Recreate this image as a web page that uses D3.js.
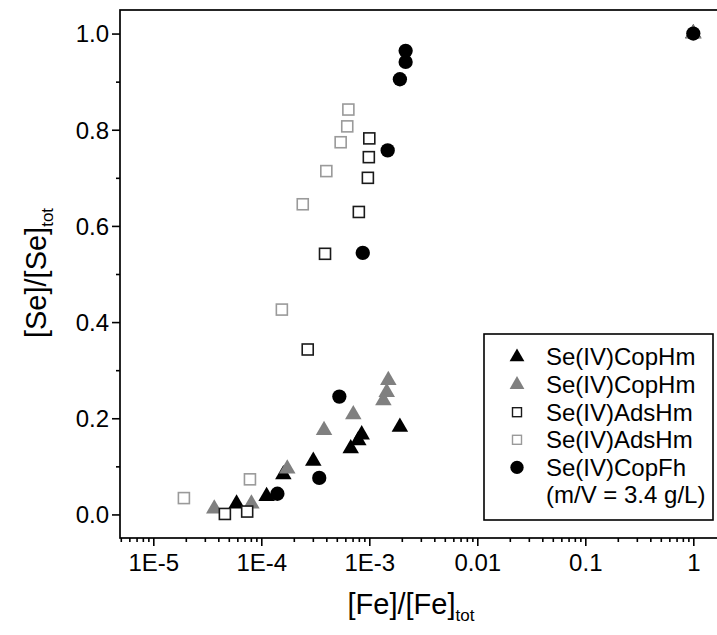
<!DOCTYPE html>
<html>
<head>
<meta charset="utf-8">
<script src="https://cdn.jsdelivr.net/npm/d3@7"></script>
<style>
  body { margin: 0; background: #fff; }
  svg text { font-family: "Liberation Sans", Arial, sans-serif; fill: #000; }
</style>
</head>
<body>
<script>
// values
const copHmBlackX = [5.9e-5, 1.12e-4, 1.6e-4, 3.03e-4, 6.73e-4, 7.91e-4, 8.5e-4, 1.92e-3, 1];
const copHmBlackY = [0.022, 0.038, 0.083, 0.111, 0.137, 0.154, 0.166, 0.182, 1];
const copHmGrayX = [3.67e-5, 8.1e-5, 1.74e-4, 3.81e-4, 7.11e-4, 1.35e-3, 1.45e-3, 1.5e-3, 1];
const copHmGrayY = [0.012, 0.022, 0.095, 0.175, 0.208, 0.237, 0.254, 0.279, 1];
const adsHmBlackX = [4.6e-5, 7.4e-5, 2.69e-4, 3.89e-4, 8.0e-4, 9.7e-4, 9.9e-4, 1.0e-3];
const adsHmBlackY = [0.001, 0.006, 0.343, 0.542, 0.629, 0.700, 0.743, 0.782];
const adsHmGrayX = [1.92e-5, 7.85e-5, 1.55e-4, 2.42e-4, 4.0e-4, 5.43e-4, 6.25e-4, 6.4e-4];
const adsHmGrayY = [0.034, 0.073, 0.426, 0.645, 0.714, 0.774, 0.807, 0.842];
const copFhX = [1.41e-4, 3.44e-4, 5.28e-4, 8.7e-4, 1.48e-3, 1.92e-3, 2.17e-3, 2.17e-3, 1];
const copFhY = [0.043, 0.076, 0.245, 0.544, 0.757, 0.905, 0.941, 0.964, 1];

const xTickValues = [1e-5, 1e-4, 1e-3, 0.01, 0.1, 1];
const xTickLabels = ["1E-5", "1E-4", "1E-3", "0.01", "0.1", "1"];
const yTickValues = [0, 0.2, 0.4, 0.6, 0.8, 1.0];
const legendLabels = ["Se(IV)CopHm", "Se(IV)CopHm", "Se(IV)AdsHm", "Se(IV)AdsHm", "Se(IV)CopFh"];

const W = 717, H = 635;
const plot = { left: 120, right: 721, top: 10, bottom: 538 };

const svg = d3.select("body").append("svg")
    .attr("width", W)
    .attr("height", H);

// log x: 108 px per decade, 1E-5 sits at 153
const x = d3.scaleLog().domain([1e-5, 1]).range([153.3, 693.3]);
const y = d3.scaleLinear().domain([-0.049, 1.049]).range([plot.bottom, plot.top]);
x.domain([x.invert(plot.left), x.invert(plot.right)]).range([plot.left, plot.right]);

// minor ticks
let xMinor = [];
for (let e = -6; e <= 0; e++) {
    for (let m = 2; m <= 9; m++) {
        let v = m * Math.pow(10, e);
        if (x(v) > plot.left && x(v) < plot.right) xMinor.push(v);
    }
}
const yMinor = [0.1, 0.3, 0.5, 0.7, 0.9];

const xAxis = svg.append("g")
    .attr("transform", "translate(0," + plot.bottom + ")");
xAxis.call(d3.axisBottom(x).tickValues(xMinor).tickSize(4).tickFormat(""));
xAxis.append("g").call(d3.axisBottom(x).tickValues(xTickValues).tickSize(8)
    .tickFormat((d, i) => xTickLabels[i]));
xAxis.selectAll(".domain").remove();
xAxis.selectAll("line").attr("stroke", "#000").attr("stroke-width", 1.6);
xAxis.selectAll("text")
    .attr("font-size", 24)
    .attr("dy", null)
    .attr("y", 33);

const yAxis = svg.append("g")
    .attr("transform", "translate(" + plot.left + ",0)");
yAxis.call(d3.axisLeft(y).tickValues(yMinor).tickSize(4).tickFormat(""));
yAxis.append("g").call(d3.axisLeft(y).tickValues(yTickValues).tickSize(8)
    .tickFormat(d3.format(".1f")));
yAxis.selectAll(".domain").remove();
yAxis.selectAll("line").attr("stroke", "#000").attr("stroke-width", 1.6);
yAxis.selectAll("text")
    .attr("font-size", 24)
    .attr("x", -11)
    .attr("dy", "0.35em");

// frame
svg.append("rect")
    .attr("x", plot.left)
    .attr("y", plot.top)
    .attr("width", plot.right - plot.left)
    .attr("height", plot.bottom - plot.top)
    .attr("fill", "none")
    .attr("stroke", "#000")
    .attr("stroke-width", 1.7);

// marks
const triangle = d3.symbol().type(d3.symbolTriangle);
const circle = d3.symbol().type(d3.symbolCircle);

function drawTriangles(xs, ys, color, size) {
    svg.append("g").selectAll("path")
        .data(xs)
        .enter()
        .append("path")
        .attr("d", triangle.size(size)())
        .attr("transform", (d, i) => "translate(" + x(d) + "," + y(ys[i]) + ")")
        .attr("fill", color);
}
function drawSquares(xs, ys, color, side) {
    svg.append("g").selectAll("rect")
        .data(xs)
        .enter()
        .append("rect")
        .attr("x", d => x(d) - side / 2)
        .attr("y", (d, i) => y(ys[i]) - side / 2)
        .attr("width", side)
        .attr("height", side)
        .attr("fill", "#fff")
        .attr("stroke", color)
        .attr("stroke-width", 1.6);
}
function drawCircles(xs, ys, size) {
    svg.append("g").selectAll("path")
        .data(xs)
        .enter()
        .append("path")
        .attr("d", circle.size(size)())
        .attr("transform", (d, i) => "translate(" + x(d) + "," + y(ys[i]) + ")")
        .attr("fill", "#000");
}

drawTriangles(copHmBlackX, copHmBlackY, "#000", 118);
drawTriangles(copHmGrayX, copHmGrayY, "#808080", 118);
drawSquares(adsHmBlackX, adsHmBlackY, "#1a1a1a", 11);
drawSquares(adsHmGrayX, adsHmGrayY, "#9a9a9a", 11);
drawCircles(copFhX, copFhY, 160);

// legend
const legend = svg.append("g");
legend.append("rect")
    .attr("x", 484)
    .attr("y", 334)
    .attr("width", 229)
    .attr("height", 186)
    .attr("fill", "#fff")
    .attr("stroke", "#000")
    .attr("stroke-width", 1.6);

const rowY = i => 357 + i * 27.6;
const symX = 517;
legend.append("path").attr("d", triangle.size(95)())
    .attr("transform", "translate(" + symX + "," + rowY(0) + ")").attr("fill", "#000");
legend.append("path").attr("d", triangle.size(95)())
    .attr("transform", "translate(" + symX + "," + rowY(1) + ")").attr("fill", "#808080");
legend.append("rect").attr("x", symX - 4.5).attr("y", rowY(2) - 4.5)
    .attr("width", 9).attr("height", 9)
    .attr("fill", "#fff").attr("stroke", "#1a1a1a").attr("stroke-width", 1.4);
legend.append("rect").attr("x", symX - 4.5).attr("y", rowY(3) - 4.5)
    .attr("width", 9).attr("height", 9)
    .attr("fill", "#fff").attr("stroke", "#9a9a9a").attr("stroke-width", 1.4);
legend.append("path").attr("d", circle.size(140)())
    .attr("transform", "translate(" + symX + "," + rowY(4) + ")").attr("fill", "#000");

legend.selectAll("text.lab")
    .data(legendLabels)
    .enter()
    .append("text")
    .attr("class", "lab")
    .attr("x", 546)
    .attr("y", (d, i) => rowY(i))
    .attr("dy", "0.35em")
    .attr("font-size", 24)
    .text(d => d);
legend.append("text")
    .attr("x", 546)
    .attr("y", rowY(5))
    .attr("dy", "0.35em")
    .attr("font-size", 24)
    .text("(m/V = 3.4 g/L)");

// axis titles
const xTitle = svg.append("text")
    .attr("x", 411)
    .attr("y", 614)
    .attr("text-anchor", "middle")
    .attr("font-size", 29);
xTitle.append("tspan").text("[Fe]/[Fe]");
xTitle.append("tspan").attr("font-size", 17).attr("dy", 7).text("tot");

const yTitle = svg.append("text")
    .attr("transform", "translate(46,273) rotate(-90)")
    .attr("text-anchor", "middle")
    .attr("font-size", 29);
yTitle.append("tspan").text("[Se]/[Se]");
yTitle.append("tspan").attr("font-size", 17).attr("dy", 7).text("tot");
</script>
</body>
</html>
